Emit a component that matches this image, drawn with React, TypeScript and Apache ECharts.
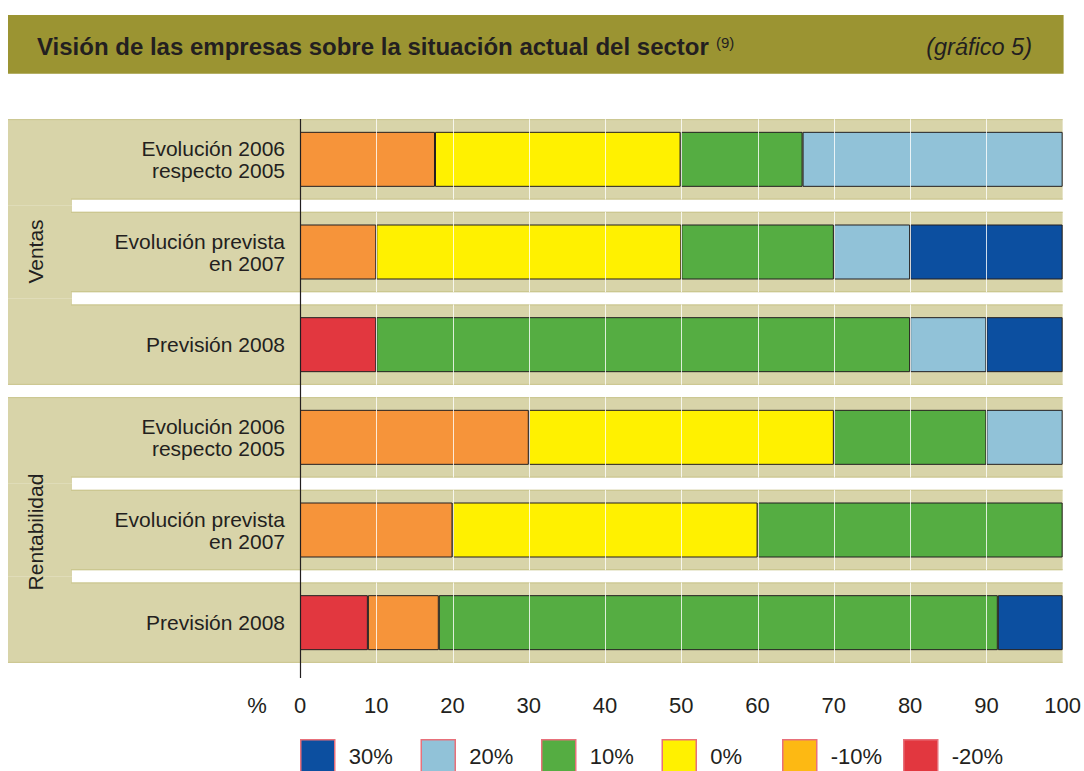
import React, { useEffect, useRef } from 'react';
import * as echarts from 'echarts';

// ---------- data ----------
const ROW_LABELS = [
  'Evolución 2006\nrespecto 2005',
  'Evolución prevista\nen 2007',
  'Previsión 2008',
  'Evolución 2006\nrespecto 2005',
  'Evolución prevista\nen 2007',
  'Previsión 2008',
];
const GROUPS = ['Ventas', 'Rentabilidad'];
const GROUP_OF_ROW = [0, 0, 0, 1, 1, 1];

const SERIES_NAMES = ['-20%', '-10%', '0%', '10%', '20%', '30%'];
const NEG20 = [0, 0, 10, 0, 0, 8.9];
const NEG10 = [17.7, 10, 0, 30, 20, 9.3];
const ZERO = [32.2, 40, 0, 40, 40, 0];
const POS10 = [16, 20, 70, 20, 40, 73.3];
const POS20 = [34.1, 10, 10, 10, 0, 0];
const POS30 = [0, 20, 10, 0, 0, 8.5];
const SERIES_VALUES = [NEG20, NEG10, ZERO, POS10, POS20, POS30];

const LEGEND_ORDER = ['30%', '20%', '10%', '0%', '-10%', '-20%'];
const GRID_VALUES = [10, 20, 30, 40, 50, 60, 70, 80, 90];

// ---------- styles ----------
const COLORS: Record<string, string> = {
  '-20%': '#E2373F',
  '-10%': '#F6943A',
  '0%': '#FFF100',
  '10%': '#55AD42',
  '20%': '#91C2D8',
  '30%': '#0C4FA0',
};
const LEGEND_COLORS: Record<string, string> = { ...COLORS, '-10%': '#FDB913' };
const LEGEND_LEFT = [300, 420.5, 541, 661.5, 782, 903];
const TAN = '#D8D4A9';
const TAN_EDGE = '#C9C48C';
const TEXT = '#231F20';
const FONT = '"Liberation Sans", Arial, Helvetica, sans-serif';
const PANEL_LEFT = 8;
const STRIP_RIGHT = 71;
const ROW_GAP = 12.3;

export default function App() {
  const ref = useRef<HTMLDivElement>(null);

  useEffect(() => {
    if (!ref.current) return;
    const chart = echarts.init(ref.current, null, { renderer: 'svg' });
    const n = ROW_LABELS.length;
    const rowIdx = ROW_LABELS.map((_, i) => [100, i]);

    const rowGeom = (params: any, api: any) => {
      const i = params.dataIndex;
      const start = api.coord([0, i]);
      const end = api.coord([100, i]);
      const band = api.size([0, 1])[1];
      const h = band - ROW_GAP;
      const top = start[1] - h / 2;
      const g = GROUP_OF_ROW[i];
      const first = i === 0 || GROUP_OF_ROW[i - 1] !== g;
      const last = i === n - 1 || GROUP_OF_ROW[i + 1] !== g;
      return { i, start, end, band, h, top, first, last };
    };

    const bgSeries: any = {
      type: 'custom',
      name: 'bg',
      silent: true,
      clip: false,
      z: 0,
      data: rowIdx,
      encode: { x: 0, y: 1 },
      renderItem: (params: any, api: any) => {
        const { start, end, band, h, top, first, last } = rowGeom(params, api);
        const stripTop = first ? top : start[1] - band / 2;
        const stripBot = last ? top + h : start[1] + band / 2;
        return {
          type: 'group',
          children: [
            {
              type: 'rect',
              shape: { x: PANEL_LEFT, y: stripTop, width: STRIP_RIGHT - PANEL_LEFT + 1, height: stripBot - stripTop },
              style: { fill: TAN },
            },
            {
              type: 'rect',
              shape: { x: STRIP_RIGHT, y: top, width: end[0] - STRIP_RIGHT, height: h },
              style: { fill: TAN },
            },
            {
              type: 'line',
              shape: { x1: first ? PANEL_LEFT : STRIP_RIGHT, y1: top + 0.5, x2: end[0], y2: top + 0.5 },
              style: { stroke: TAN_EDGE, lineWidth: 1 },
            },
            {
              type: 'line',
              shape: { x1: last ? PANEL_LEFT : STRIP_RIGHT, y1: top + h - 0.5, x2: end[0], y2: top + h - 0.5 },
              style: { stroke: TAN_EDGE, lineWidth: 1 },
            },
          ],
        };
      },
    };

    const gridSeries: any = {
      type: 'custom',
      name: 'gridlines',
      silent: true,
      clip: false,
      z: 5,
      data: rowIdx,
      encode: { x: 0, y: 1 },
      renderItem: (params: any, api: any) => {
        const { i, h, top } = rowGeom(params, api);
        return {
          type: 'group',
          children: GRID_VALUES.map((v) => {
            const x = Math.round(api.coord([v, i])[0]) + 0.5;
            return {
              type: 'line',
              shape: { x1: x, y1: top, x2: x, y2: top + h },
              style: { stroke: 'rgba(255,255,255,0.8)', lineWidth: 1 },
            };
          }),
        };
      },
    };

    const barSeries = SERIES_NAMES.map((name, k) => ({
      type: 'bar',
      name,
      stack: 'total',
      barWidth: 55,
      z: 2,
      itemStyle: { color: COLORS[name], borderColor: TEXT, borderWidth: 1 },
      data: SERIES_VALUES[k].map((v) => (v === 0 ? null : v)),
    }));

    const legends = LEGEND_ORDER.map((name, k) => ({
      data: [{ name, icon: 'rect', itemStyle: { color: LEGEND_COLORS[name] } }],
      left: LEGEND_LEFT[k],
      top: 739,
      padding: 0,
      itemWidth: 34,
      itemHeight: 34,
      selectedMode: false,
      itemStyle: { borderColor: '#E8707A', borderWidth: 1.5 },
      textStyle: { fontSize: 22, color: TEXT, fontFamily: FONT, padding: [0, 0, 0, 9] },
    }));

    chart.setOption({
      animation: false,
      backgroundColor: '#ffffff',
      textStyle: { fontFamily: FONT },
      grid: { left: 300, right: 20.2, top: 113, bottom: 102, containLabel: false },
      xAxis: {
        type: 'value',
        min: 0,
        max: 100,
        interval: 10,
        axisLine: { show: false },
        axisTick: { show: false },
        splitLine: { show: false },
        axisLabel: { fontSize: 22, color: TEXT, margin: 25, fontFamily: FONT },
      },
      yAxis: {
        type: 'category',
        inverse: true,
        data: ROW_LABELS,
        axisLine: { show: false },
        axisTick: { show: false },
        splitLine: { show: false },
        axisLabel: {
          fontSize: 21,
          lineHeight: 22,
          color: TEXT,
          margin: 15,
          align: 'right',
          fontFamily: FONT,
        },
      },
      legend: legends,
      series: [bgSeries, ...barSeries, gridSeries],
      graphic: [
        {
          type: 'rect',
          z: 100,
          shape: { x: 8, y: 15, width: 1055.6, height: 58.7 },
          style: { fill: '#9B9432' },
        },
        {
          type: 'text',
          z: 101,
          x: 37,
          y: 46,
          style: {
            text: 'Visión de las empresas sobre la situación actual del sector',
            font: `bold 24px ${FONT}`,
            fill: TEXT,
            textAlign: 'left',
            textVerticalAlign: 'middle',
          },
        },
        {
          type: 'text',
          z: 101,
          x: 716,
          y: 42,
          style: {
            text: '(9)',
            font: `15px ${FONT}`,
            fill: TEXT,
            textAlign: 'left',
            textVerticalAlign: 'middle',
          },
        },
        {
          type: 'text',
          z: 101,
          x: 1032,
          y: 47,
          style: {
            text: '(gráfico 5)',
            font: `italic 23.5px ${FONT}`,
            fill: TEXT,
            textAlign: 'right',
            textVerticalAlign: 'middle',
          },
        },
        {
          type: 'line',
          z: 100,
          shape: { x1: 300.5, y1: 119, x2: 300.5, y2: 678 },
          style: { stroke: TEXT, lineWidth: 1.2 },
        },
        {
          type: 'text',
          z: 101,
          x: 257,
          y: 705,
          style: {
            text: '%',
            font: `22px ${FONT}`,
            fill: TEXT,
            textAlign: 'center',
            textVerticalAlign: 'middle',
          },
        },
        ...GROUPS.map((g, gi) => ({
          type: 'text',
          z: 101,
          x: 35,
          y: gi === 0 ? 251.5 : 532,
          rotation: Math.PI / 2,
          style: {
            text: g,
            font: `21px ${FONT}`,
            fill: TEXT,
            textAlign: 'center',
            textVerticalAlign: 'middle',
          },
        })),
      ],
    });

    return () => chart.dispose();
  }, []);

  return (
    <div
      ref={ref}
      style={{ position: 'fixed', left: 0, top: 0, width: 1084, height: 771, background: '#fff' }}
    />
  );
}
